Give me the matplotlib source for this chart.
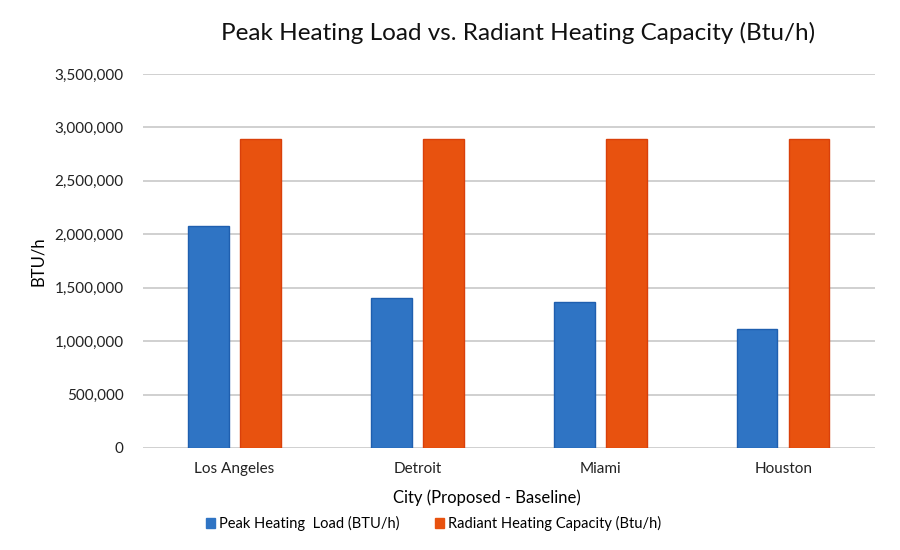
import matplotlib
matplotlib.use("Agg")
import matplotlib.pyplot as plt
import matplotlib.patches as mpatches
import numpy as np
from matplotlib.ticker import FuncFormatter

cities = ["Los Angeles", "Detroit", "Miami", "Houston"]
peak_load = [2075000, 1400000, 1367000, 1115000]
radiant_capacity = [2890000, 2890000, 2890000, 2890000]

blue = "#2F74C4"
orange = "#E8520F"

plt.rcParams['font.family'] = ['Lato', 'DejaVu Sans']

fig = plt.figure(figsize=(9, 5.5), dpi=100)
ax = fig.add_axes([0.159, 0.1855, 0.813, 0.68])

x = np.arange(len(cities))
w = 0.22
ax.bar(x - 0.142, peak_load, w, color=blue, edgecolor="#1F5FAF", linewidth=1, zorder=3)
ax.bar(x + 0.142, radiant_capacity, w, color=orange, edgecolor="#D9400A", linewidth=1, zorder=3)

ax.set_xlim(-0.5, 3.5)
ax.set_ylim(0, 3500000)
ax.set_yticks(np.arange(0, 3500001, 500000))
ax.yaxis.set_major_formatter(FuncFormatter(lambda v, p: f"{int(v):,}"))
ax.set_xticks(x)
ax.set_xticklabels(cities)
ax.tick_params(axis='both', length=0, labelsize=11, colors="#222222")
ax.tick_params(axis='x', pad=10)
ax.tick_params(axis='y', pad=14)
ax.grid(axis='y', color="#C8C8C8", linewidth=1.2, zorder=0)
for s in ax.spines.values():
    s.set_visible(False)

ax.set_ylabel("BTU/h", fontsize=12, labelpad=6)
ax.set_xlabel("City (Proposed - Baseline)", fontsize=12, labelpad=10)
ax.xaxis.set_label_coords(0.47, -0.112)
fig.text(0.576, 0.94, "Peak Heating Load vs. Radiant Heating Capacity (Btu/h)",
         ha='center', va='center', fontsize=17.5, color="#111111")

handles = [mpatches.Patch(color=blue, label="Peak Heating  Load (BTU/h)"),
           mpatches.Patch(color=orange, label="Radiant Heating Capacity (Btu/h)")]
fig.legend(handles=handles, loc='center', bbox_to_anchor=(0.482, 0.048), ncol=2, frameon=False,
           fontsize=10.5, handlelength=0.6, handleheight=0.6, handletextpad=0.3, columnspacing=2.4)

fig.savefig("out.png", dpi=100)
